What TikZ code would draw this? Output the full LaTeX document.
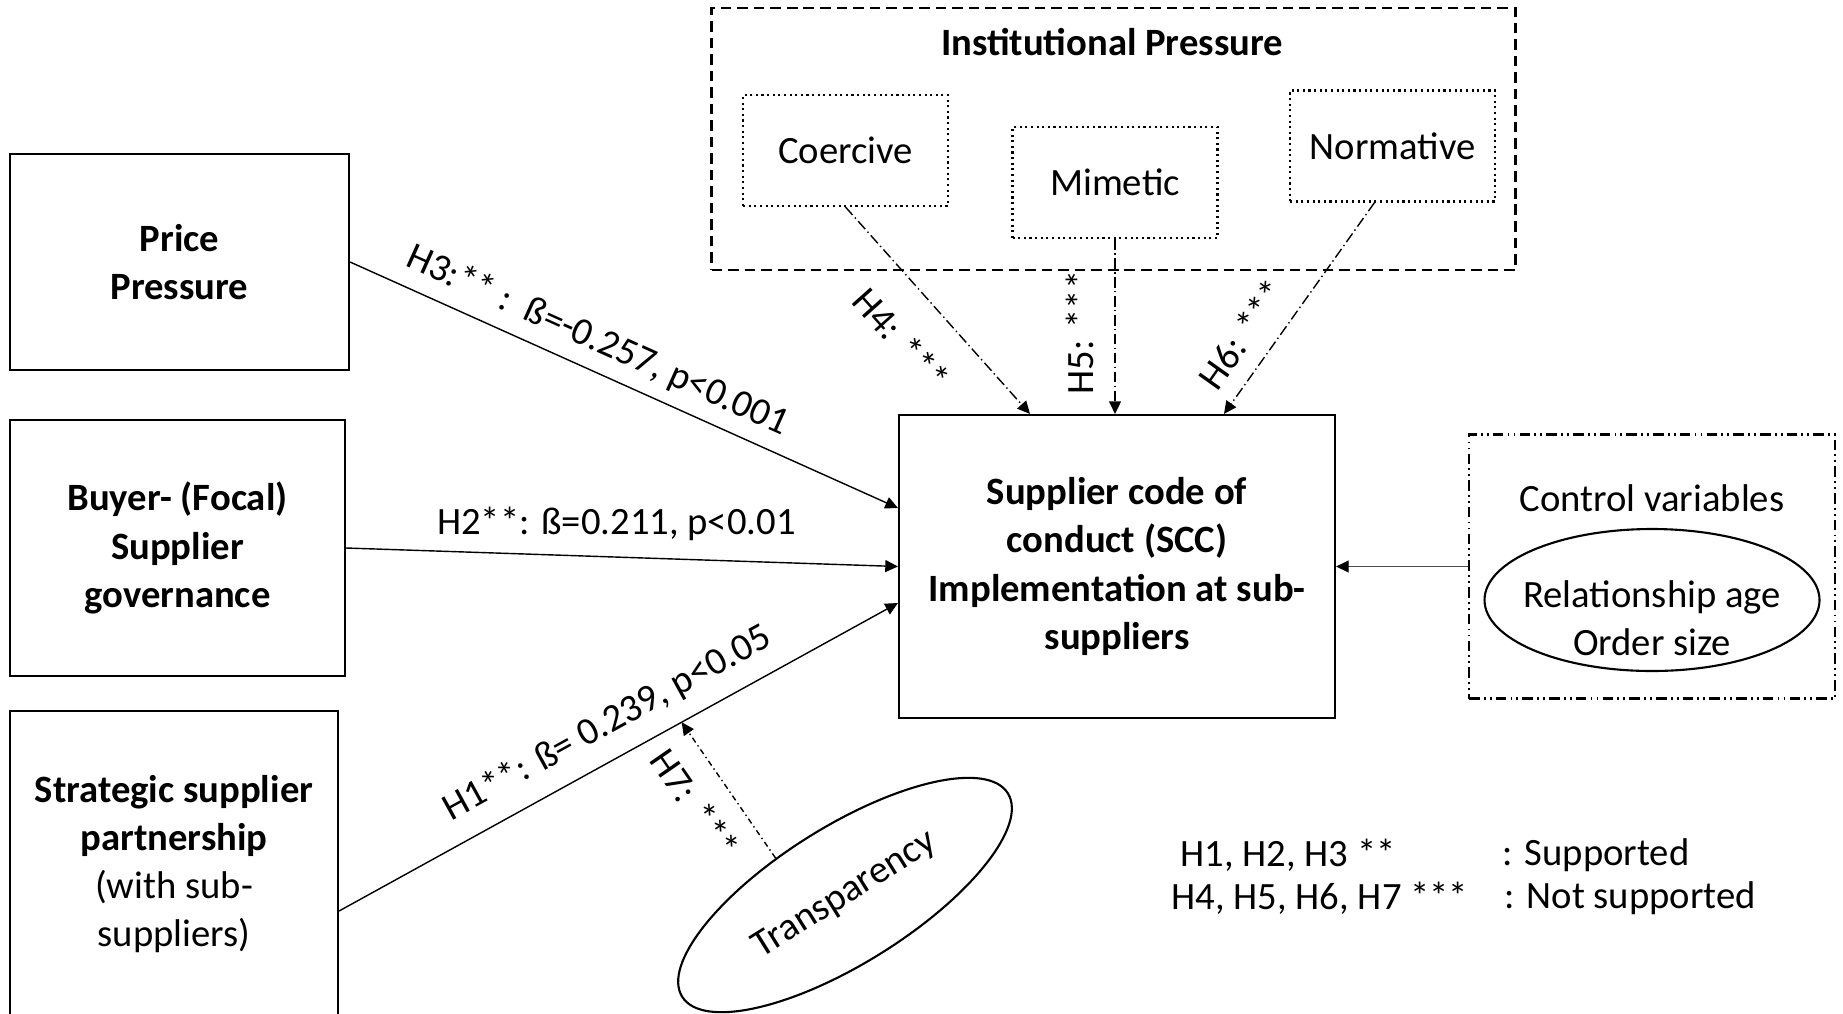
\documentclass[tikz,border=0pt]{standalone}
\usepackage{fontspec}
\setmainfont{Carlito}
\usetikzlibrary{arrows.meta,shapes.geometric}

\begin{document}
\begin{tikzpicture}[
    font=\fontsize{11}{13.7}\selectfont,
    varbox/.style={draw, line width=0.6pt, align=center, font=\fontsize{11}{13.7}\selectfont\bfseries},
    dimbox/.style={draw, line width=0.6pt, densely dotted, minimum width=2.05cm, minimum height=1.11cm},
    groupbox/.style={draw, line width=0.6pt, dash pattern=on 3pt off 1.7pt},
    ctrlbox/.style={draw, line width=0.6pt, dash pattern=on 3pt off 1.2pt on 0.5pt off 1.2pt on 0.5pt off 1.2pt},
    oval/.style={draw, ellipse, line width=0.6pt, inner sep=0pt, align=center},
    hyp/.style={line width=0.4pt, -{Triangle[length=3.6pt,width=3.4pt]}},
    insthyp/.style={hyp, dash pattern=on 3pt off 1pt on 0.4pt off 1pt},
    modhyp/.style={hyp, dash pattern=on 1.6pt off 1pt on 0.4pt off 1pt},
    ctrlarrow/.style={line width=0.4pt, black!70, -{Triangle[length=3.6pt,width=3.4pt,black]}},
    legend/.style={anchor=west, inner sep=0pt}
]
    \path[use as bounding box, clip] (0,0) rectangle (18.43,-10.13);

    \node[varbox, minimum width=3.39cm, minimum height=2.16cm] (price) at (1.795,-2.62) {Price\\Pressure};
    \node[varbox, minimum width=3.35cm, minimum height=2.56cm] (buyer) at (1.775,-5.48) {Buyer- (Focal)\\Supplier\\governance};
    \node[varbox, minimum width=3.28cm, minimum height=3.06cm] (strat) at (1.74,-8.64)
        {\textbf{Strategic supplier}\\\textbf{partnership}\\\mdseries(with sub-\\\mdseries suppliers)};
    \node[varbox, minimum width=4.36cm, minimum height=3.03cm] (scc) at (11.17,-5.665)
        {Supplier code of\\conduct (SCC)\\Implementation at sub-\\suppliers};

    \node[groupbox, minimum width=8.04cm, minimum height=2.62cm] (inst) at (11.135,-1.39) {};
    \node[font=\fontsize{11}{13.7}\selectfont\bfseries] (insttitle) at (11.12,-0.42) {Institutional Pressure};
    \node[dimbox] (coer) at (8.455,-1.505) {Coercive};
    \node[dimbox] (mim) at (11.15,-1.825) {Mimetic};
    \node[dimbox] (norm) at (13.925,-1.46) {Normative};

    \node[ctrlbox, minimum width=3.66cm, minimum height=2.64cm] (ctrl) at (16.52,-5.665) {};
    \node (ctrltitle) at (16.52,-4.98) {Control variables};
    \node[oval, minimum width=3.35cm, minimum height=1.42cm] (ctrlell) at (16.52,-6.0) {};
    \node[align=center] (ctrltext) at (16.52,-6.18) {Relationship age\\Order size};

    \node[oval, rotate=32, minimum width=3.84cm, minimum height=1.37cm] (trans) at (8.45,-8.95) {Transparency};

    \draw[hyp] (price.east) -- node[sloped, above=0pt, pos=0.43] (h3lab) {H3:** :\ \ ß=-0.257, p<0.001} ([yshift=0.585cm]scc.west);
    \draw[hyp] (buyer.east) -- node[above=1pt, pos=0.49] (h2lab) {H2**: ß=0.211, p<0.01} (scc.west);
    \draw[hyp] ([yshift=-0.47cm]strat.east) -- coordinate[pos=0.613] (h7tip)
        node[sloped, above=1.5pt, pos=0.51] (h1lab) {H1**: ß= 0.239, p<0.05} ([yshift=-0.365cm]scc.west);

    \draw[insthyp] (coer.south) -- node[sloped, below=5.7pt, pos=0.49] (h4lab) {H4: ***} ([xshift=-0.87cm]scc.north);
    \draw[insthyp] (mim.south) -- node[pos=0.534, xshift=-0.355cm, rotate=90] (h5lab) {H5: ***} (mim.south |- scc.north);
    \draw[insthyp] ([xshift=-0.18cm]norm.south) -- node[sloped, above=1.5pt, pos=0.71] (h6lab) {H6: ***} ([xshift=1.07cm]scc.north);
    \draw[modhyp] (trans.120) -- node[sloped, below=2.5pt, pos=0.55] (h7lab) {H7: ***} (h7tip);
    \draw[ctrlarrow] (ctrl.west) -- (scc.east);

    \node[legend] (leg1) at (11.80,-8.55) {H1, H2, H3 **};
    \node[legend] (leg1r) at (15.02,-8.55) {: Supported};
    \node[legend] (leg2) at (11.71,-8.98) {H4, H5, H6, H7 ***};
    \node[legend] (leg2r) at (15.04,-8.98) {: Not supported};
\end{tikzpicture}
\end{document}
